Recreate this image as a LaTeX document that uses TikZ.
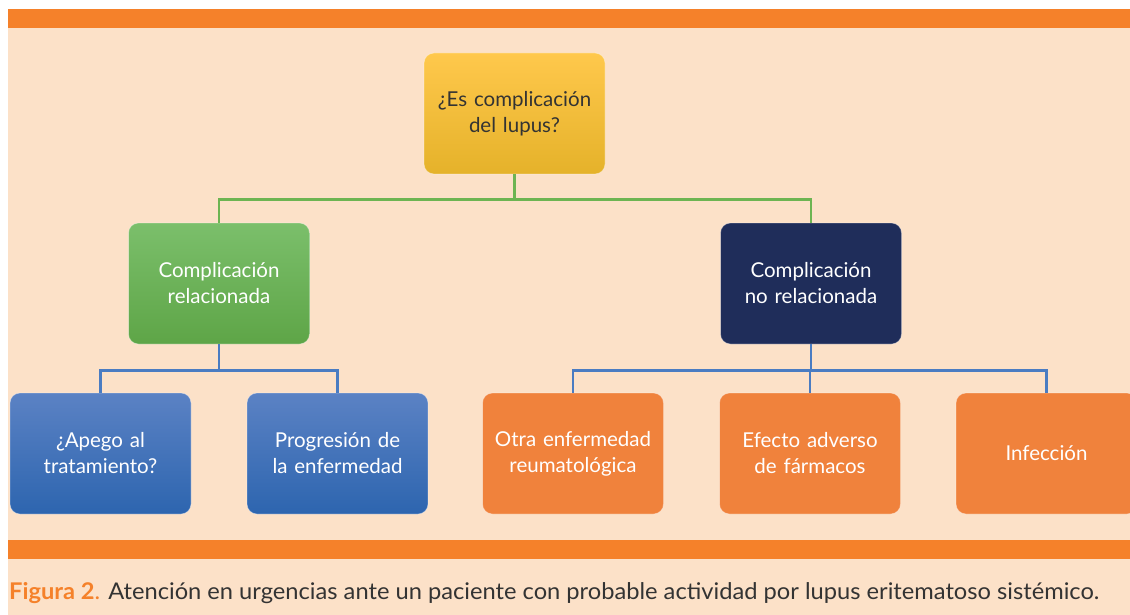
\documentclass[tikz,border=0pt]{standalone}
\usepackage{fontspec}
\setmainfont{Lato}
\usetikzlibrary{calc}
\definecolor{peach}{HTML}{FCE1C8}
\definecolor{barorange}{HTML}{F5812A}
\definecolor{boxorange}{HTML}{F0823C}
\definecolor{navy}{HTML}{1F2D5A}
\definecolor{glinec}{HTML}{6DB452}
\definecolor{blinec}{HTML}{4A7CC2}
\definecolor{ytop}{HTML}{FFC84C}
\definecolor{ymid}{HTML}{FDC22A}
\definecolor{ybot}{HTML}{E5B22A}
\definecolor{gtop}{HTML}{7BBF6B}
\definecolor{gbot}{HTML}{5EA547}
\definecolor{btop}{HTML}{5B82C4}
\definecolor{bbot}{HTML}{2D65AF}
\definecolor{captxt}{HTML}{333333}
\begin{document}
\begin{tikzpicture}[x=1pt,y=-1pt,
  box/.style={rounded corners=10pt, minimum width=181pt, minimum height=121pt,
    align=center, text width=176pt, inner sep=0pt,
    font=\fontsize{20.5}{26}\selectfont, draw=white, draw opacity=0.35, line width=0.8pt},
  yellowbox/.style={box, top color=ytop, middle color=ymid, bottom color=ybot, text=captxt},
  greenbox/.style={box, top color=gtop, bottom color=gbot, text=white},
  navybox/.style={box, fill=navy, text=white},
  bluebox/.style={box, top color=btop, bottom color=bbot, text=white},
  orangebox/.style={box, fill=boxorange, text=white},
  gline/.style={draw=glinec, line width=2.2pt},
  bline/.style={draw=blinec, line width=2.2pt}
]
\useasboundingbox (0,0) rectangle (1130,615);
\fill[white] (0,0) rectangle (1130,615);
\fill[peach] (8,9) rectangle (1130,615);
\fill[barorange] (8,9) rectangle (1130,28);
\fill[barorange] (8,540) rectangle (1130,559);

\node[yellowbox] (q) at (514.5,113.5) {¿Es complicación\\del lupus?};
\node[greenbox] (rel) at (219,283.5) {Complicación\\relacionada};
\node[navybox] (norel) at (811,283.5) {Complicación\\no relacionada};
\node[bluebox] (apego) at (100.5,453.5) {¿Apego al\\tratamiento?};
\node[bluebox] (prog) at (337.5,453.5) {Progresión de\\la enfermedad};
\node[orangebox] (otra) at (573,453.5) {Otra enfermedad\\reumatológica};
\node[orangebox] (efecto) at (810,453.5) {Efecto adverso\\de fármacos};
\node[orangebox] (inf) at (1046.5,453.5) {Infección};

\draw[gline] (q.south) -- ++(0,25) coordinate (j1) -| (rel.north);
\draw[gline] (j1) -| (norel.north);
\draw[bline] (rel.south) -- ++(0,26) coordinate (j2) -| (apego.north);
\draw[bline] (j2) -| (prog.north);
\draw[bline] (norel.south) -- ++(0,26) coordinate (j3) -| (otra.north);
\draw[bline] (j3) -| (efecto.north);
\draw[bline] (j3) -| (inf.north);

\node[anchor=base west, inner sep=0pt] (cap) at (9,599)
  {\resizebox{1090pt}{\height}{\fontsize{23}{26}\selectfont\textcolor{barorange}{\textbf{Figura 2}.} \textcolor{captxt}{Atención en urgencias ante un paciente con probable actividad por lupus eritematoso sistémico.}}};
\end{tikzpicture}
\end{document}
